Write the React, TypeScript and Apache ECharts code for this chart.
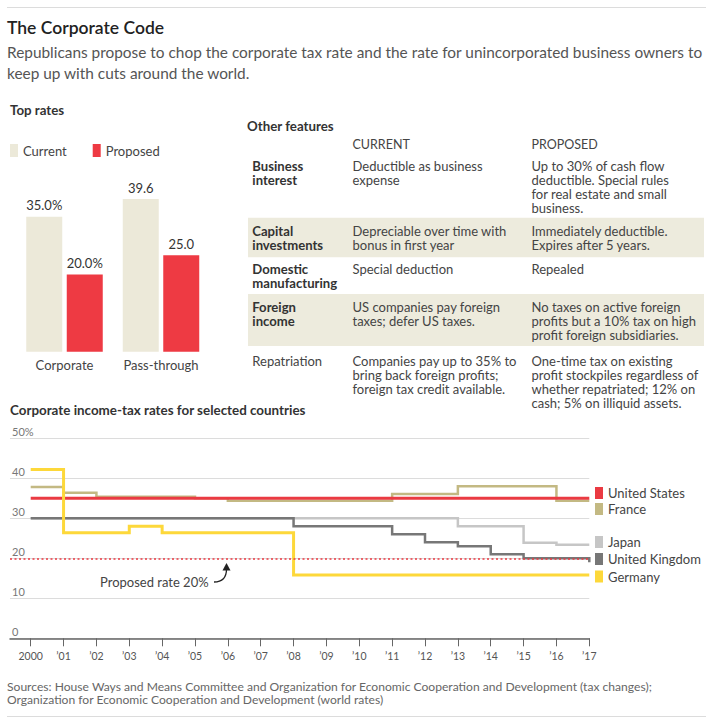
import React, { useEffect, useRef } from 'react';
import * as echarts from 'echarts';

const FONT = 'Lato, "Noto Sans", sans-serif';

// ---- Top rates (bar chart) ----
const BAR_CATEGORIES = ['Corporate', 'Pass-through'];
const CURRENT_RATES = [35.0, 39.6];
const PROPOSED_RATES = [20.0, 25.0];

// ---- Other features table ----
const TABLE_HEADERS = ['CURRENT', 'PROPOSED'];
const ROW_LABELS = ['Business\ninterest', 'Capital\ninvestments', 'Domestic\nmanufacturing', 'Foreign\nincome', 'Repatriation'];
const ROW_LABEL_BOLD = [true, true, true, true, false];
const ROW_CURRENT = [
  'Deductible as business\nexpense',
  'Depreciable over time with\nbonus in first year',
  'Special deduction',
  'US companies pay foreign\ntaxes; defer US taxes.',
  'Companies pay up to 35% to\nbring back foreign profits;\nforeign tax credit available.',
];
const ROW_PROPOSED = [
  'Up to 30% of cash flow\ndeductible. Special rules\nfor real estate and small\nbusiness.',
  'Immediately deductible.\nExpires after 5 years.',
  'Repealed',
  'No taxes on active foreign\nprofits but a 10% tax on high\nprofit foreign subsidiaries.',
  'One-time tax on existing\nprofit stockpiles regardless of\nwhether repatriated; 12% on\ncash; 5% on illiquid assets.',
];

// ---- Corporate income-tax rates (step lines) ----
const YEARS = [2000, 2001, 2002, 2003, 2004, 2005, 2006, 2007, 2008, 2009, 2010, 2011, 2012, 2013, 2014, 2015, 2016, 2017];
const US = [35, 35, 35, 35, 35, 35, 35, 35, 35, 35, 35, 35, 35, 35, 35, 35, 35, 35];
const FRANCE = [37.8, 36.4, 35.4, 35.4, 35.4, 35.0, 34.4, 34.4, 34.4, 34.4, 34.4, 36.1, 36.1, 38.0, 38.0, 38.0, 34.4, 34.4];
const JAPAN = [30, 30, 30, 30, 30, 30, 30, 30, 30, 30, 30, 30, 30, 28.0, 28.0, 23.9, 23.4, 23.4];
const UK = [30, 30, 30, 30, 30, 30, 30, 30, 28, 28, 28, 26, 24, 23, 21, 20, 20, 19];
const GERMANY = [42.2, 26.4, 26.4, 28.0, 26.4, 26.4, 26.4, 26.4, 15.8, 15.8, 15.8, 15.8, 15.8, 15.8, 15.8, 15.8, 15.8, 15.8];
const Y_TICKS = [0, 10, 20, 30, 40, 50];

const COLORS = {
  current: '#ece9d9',
  proposed: '#ee3a43',
  us: '#ea3a42',
  france: '#c3b983',
  japan: '#c6c6c6',
  uk: '#777777',
  germany: '#fdd83a',
  rowBg: '#edebdd',
};

const SUBTITLE =
  'Republicans propose to chop the corporate tax rate and the rate for unincorporated business owners to\nkeep up with cuts around the world.';
const SOURCES =
  'Sources: House Ways and Means Committee and Organization for Economic Cooperation and Development (tax changes);\nOrganization for Economic Cooperation and Development (world rates)';

function txt(x: number, y: number, text: string, size: number, fill: string, weight: string | number = 'normal', extra: any = {}) {
  return {
    type: 'text',
    x,
    y,
    silent: true,
    style: {
      text,
      fill,
      fontSize: size,
      fontFamily: FONT,
      fontWeight: weight,
      align: 'left',
      verticalAlign: 'middle',
      ...extra,
    },
  };
}

function buildOption() {
  const rowFirstLineY = [165.7, 230.7, 268.7, 306.7, 361.3];
  const LH = 14;
  const TS = 13;
  const BS = 13.1;
  const tableEls: any[] = [];
  tableEls.push({ type: 'rect', silent: true, shape: { x: 248, y: 217.7, width: 456, height: 39.6 }, style: { fill: COLORS.rowBg } });
  tableEls.push({ type: 'rect', silent: true, shape: { x: 248, y: 294, width: 456, height: 52 }, style: { fill: COLORS.rowBg } });
  tableEls.push(txt(247, 126, 'Other features', 13.3, '#333', 'bold'));
  tableEls.push(txt(352.5, 144.3, TABLE_HEADERS[0], 12.5, '#444'));
  tableEls.push(txt(531.5, 144.3, TABLE_HEADERS[1], 12.5, '#444'));
  ROW_LABELS.forEach((label, i) => {
    const top = rowFirstLineY[i] - LH / 2;
    tableEls.push(
      txt(252.3, top, label, ROW_LABEL_BOLD[i] ? BS : TS, ROW_LABEL_BOLD[i] ? '#333' : '#444', ROW_LABEL_BOLD[i] ? 'bold' : 'normal', {
        verticalAlign: 'top',
        lineHeight: LH,
      })
    );
    tableEls.push(txt(352.5, top, ROW_CURRENT[i], TS, '#444', 'normal', { verticalAlign: 'top', lineHeight: LH }));
    tableEls.push(txt(531.5, top, ROW_PROPOSED[i], TS, '#444', 'normal', { verticalAlign: 'top', lineHeight: LH }));
  });

  const countries = [
    { name: 'France', data: FRANCE, color: COLORS.france, width: 2.5 },
    { name: 'Japan', data: JAPAN, color: COLORS.japan, width: 2.5 },
    { name: 'United Kingdom', data: UK, color: COLORS.uk, width: 2.5 },
    { name: 'United States', data: US, color: COLORS.us, width: 3 },
    { name: 'Germany', data: GERMANY, color: COLORS.germany, width: 3 },
  ];
  const legendTops: Record<string, number> = {
    'United States': 486.5,
    France: 502.5,
    Japan: 535.5,
    'United Kingdom': 552.5,
    Germany: 570,
  };

  const lineSeries = countries.map((c) => ({
    type: 'line',
    name: c.name,
    xAxisIndex: 1,
    yAxisIndex: 1,
    step: 'end',
    showSymbol: false,
    silent: true,
    data: YEARS.map((y, i) => [y, c.data[i]]),
    lineStyle: { color: c.color, width: c.width, cap: 'butt', join: 'miter' },
    itemStyle: { color: c.color },
  }));

  const barLabel = {
    show: true,
    position: 'top',
    distance: 5,
    fontSize: 13,
    color: '#333',
    fontFamily: FONT,
    formatter: (p: any) => p.value.toFixed(1) + (p.dataIndex === 0 ? '%' : ''),
  };

  return {
    animation: false,
    backgroundColor: '#fff',
    textStyle: { fontFamily: FONT },
    grid: [
      { left: 16.25, width: 193, top: 178.2, height: 173.5, outerBoundsMode: 'none' },
      { left: 10, width: 579.3, top: 438.3, height: 200, outerBoundsMode: 'none' },
    ],
    legend: [
      {
        data: ['Current', 'Proposed'],
        left: 10,
        top: 144,
        icon: 'rect',
        itemWidth: 8,
        itemHeight: 13,
        itemGap: 26,
        padding: 0,
        selectedMode: false,
        textStyle: { fontSize: 13, color: '#444', fontFamily: FONT },
      },
      ...countries.map((c) => ({
        data: [c.name],
        left: 595,
        top: legendTops[c.name],
        icon: 'rect',
        itemWidth: 8,
        itemHeight: 12,
        padding: 0,
        selectedMode: false,
        textStyle: { fontSize: 13, color: '#444', fontFamily: FONT },
      })),
    ],
    xAxis: [
      {
        gridIndex: 0,
        type: 'category',
        data: BAR_CATEGORIES,
        axisLine: { show: false },
        axisTick: { show: false },
        axisLabel: { interval: 0, fontSize: 13, color: '#444', margin: 7, fontFamily: FONT, hideOverlap: false },
      },
      {
        gridIndex: 1,
        type: 'value',
        min: 1999.37,
        max: 2017,
        axisLine: { lineStyle: { color: '#666', width: 1.5 } },
        axisTick: { customValues: YEARS, length: 8, lineStyle: { color: '#666', width: 1 } },
        axisLabel: {
          customValues: YEARS,
          formatter: (v: number) => (v === 2000 ? '2000' : '\u2019' + String(v).slice(2)),
          fontSize: 10.5,
          color: '#555',
          margin: 12,
          fontFamily: FONT,
        },
        splitLine: { show: false },
      },
    ],
    yAxis: [
      { gridIndex: 0, type: 'value', min: 0, max: 45, show: false },
      {
        gridIndex: 1,
        type: 'value',
        min: Y_TICKS[0],
        max: Y_TICKS[Y_TICKS.length - 1],
        interval: 10,
        axisLine: { show: false },
        axisTick: { show: false },
        splitLine: { lineStyle: { color: '#dcdcdc', width: 1 } },
        axisLabel: {
          inside: true,
          verticalAlign: 'bottom',
          margin: 2,
          padding: [0, 0, 1, 0],
          formatter: (v: number) => (v === 50 ? '50%' : String(v)),
          fontSize: 11,
          color: '#777',
          fontFamily: FONT,
        },
      },
    ],
    series: [
      {
        type: 'bar',
        name: 'Current',
        xAxisIndex: 0,
        yAxisIndex: 0,
        data: CURRENT_RATES,
        barWidth: 36,
        barGap: '12.5%',
        itemStyle: { color: COLORS.current },
        label: barLabel,
      },
      {
        type: 'bar',
        name: 'Proposed',
        xAxisIndex: 0,
        yAxisIndex: 0,
        data: PROPOSED_RATES,
        barWidth: 36,
        barGap: '12.5%',
        itemStyle: { color: COLORS.proposed },
        label: barLabel,
      },
      {
        type: 'line',
        name: 'Proposed rate',
        xAxisIndex: 1,
        yAxisIndex: 1,
        data: [],
        silent: true,
        markLine: {
          silent: true,
          symbol: ['none', 'none'],
          label: { show: false },
          lineStyle: { color: COLORS.us, type: [2, 2.5], width: 1.5 },
          data: [{ yAxis: PROPOSED_RATES[0] }],
        },
      },
      ...lineSeries,
    ],
    graphic: [
      { type: 'line', silent: true, shape: { x1: 7, y1: 7.5, x2: 706, y2: 7.5 }, style: { stroke: '#dcdcdc', lineWidth: 1 } },
      txt(7, 27, 'The Corporate Code', 17.5, '#222', 600),
      txt(7, 41.5, SUBTITLE, 15.4, '#555', 'normal', { verticalAlign: 'top', lineHeight: 21 }),
      txt(10, 110, 'Top rates', 13.3, '#333', 'bold'),
      ...tableEls,
      txt(10, 410, 'Corporate income-tax rates for selected countries', 13.4, '#333', 'bold'),
      txt(100, 582, 'Proposed rate 20%', 13, '#444'),
      {
        type: 'bezierCurve',
        silent: true,
        shape: { x1: 214, y1: 582, cpx1: 222, cpy1: 582, cpx2: 226.5, cpy2: 578, x2: 226.5, y2: 569 },
        style: { stroke: '#222', lineWidth: 1.3, fill: 'none' },
      },
      {
        type: 'polygon',
        silent: true,
        shape: { points: [[226.5, 563], [222.5, 570.5], [230.5, 570.5]] },
        style: { fill: '#222' },
      },
      txt(7, 679.5, SOURCES, 12.1, '#666', 'normal', { verticalAlign: 'top', lineHeight: 13 }),
      { type: 'line', silent: true, shape: { x1: 7, y1: 716.5, x2: 706, y2: 716.5 }, style: { stroke: '#dcdcdc', lineWidth: 1 } },
    ],
  };
}

export default function App() {
  const ref = useRef<HTMLDivElement>(null);
  useEffect(() => {
    if (!ref.current) return;
    const chart = echarts.init(ref.current, undefined, { renderer: 'svg' });
    chart.setOption(buildOption() as any);
    return () => chart.dispose();
  }, []);
  return <div ref={ref} style={{ position: 'absolute', left: 0, top: 0, width: 716, height: 724 }} />;
}
